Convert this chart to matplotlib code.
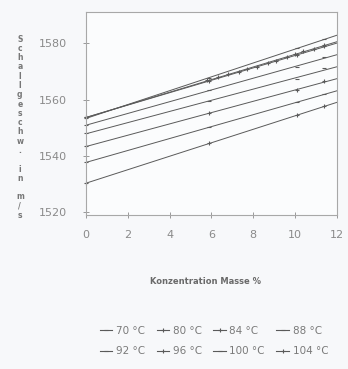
import numpy as np
import matplotlib
matplotlib.use("Agg")
import matplotlib.pyplot as plt

conc = [0.0, 5.9, 10.1, 11.4]
temps = ["70 °C", "80 °C", "84 °C", "88 °C", "92 °C", "96 °C", "100 °C", "104 °C"]
v70 = [1553.4, 1567.6, 1578.2, 1581.4]
v80 = [1553.7, 1567.2, 1577.5, 1580.3]
v84 = [1553.7, 1566.5, 1575.7, 1578.9]
v88 = [1550.9, 1563.3, 1571.5, 1575.0]
v92 = [1548.0, 1559.4, 1567.2, 1571.1]
v96 = [1543.4, 1555.1, 1563.3, 1566.5]
v100 = [1537.7, 1550.2, 1559.0, 1561.9]
v104 = [1530.3, 1544.5, 1554.4, 1557.6]
# densely measured series (80 °C)
conc80_dense = [0.0, 5.8, 6.3, 6.8, 7.3, 7.7, 8.2, 8.7, 9.1, 9.6, 10.0, 10.4, 10.9, 11.4]
v80_dense = [1553.7, 1566.9, 1568.0, 1568.9, 1569.8, 1570.7, 1571.6, 1572.8,
             1573.7, 1575.1, 1576.3, 1577.3, 1578.1, 1579.3]
xticks = [0, 2, 4, 6, 8, 10, 12]
yticks = [1520, 1540, 1560, 1580]

series = [
    (conc, v70, "_"),
    (conc80_dense, v80_dense, "+"),
    (conc, v84, "+"),
    (conc, v88, "_"),
    (conc, v92, "_"),
    (conc, v96, "+"),
    (conc, v100, "_"),
    (conc, v104, "+"),
]

fig = plt.figure(figsize=(3.48, 3.69), dpi=100, facecolor="#f7f8fa")
ax = fig.add_axes([0.247, 0.417, 0.721, 0.550])
ax.set_facecolor("#fbfcfd")

lc = "#5a5a5a"
xx = np.array([0, 12.0])
handles = []
for (xs, ys, mk), lab in zip(series, temps):
    k, d = np.polyfit(xs, ys, 1)
    ax.plot(xx, k * xx + d, color=lc, lw=0.7, clip_on=True)
    ax.plot(xs, ys, ls="none", marker=mk, ms=3.5, mew=0.8, color=lc, clip_on=False)
    h, = ax.plot([], [], color=lc, lw=0.8, marker=mk, ms=3.5, mew=0.8)
    handles.append(h)

ax.set_xlim(0, 12)
ax.set_ylim(1519, 1591)
ax.set_xticks(xticks)
ax.set_yticks(yticks)
for s in ax.spines.values():
    s.set_color("#a8a8a8")
    s.set_linewidth(0.8)
ax.tick_params(axis="both", direction="inout", length=5, width=0.7, color="#999999",
               labelcolor="#8a8a8a", labelsize=8)
ax.tick_params(axis="x", pad=8)
ax.tick_params(axis="y", pad=11)

ylabel = "Schallgeschw. in m/s"
fig.text(0.057, 0.655, "\n".join(ylabel), fontsize=5.5, color="#777777",
         ha="center", va="center", linespacing=1.04, fontweight="bold")

fig.text(0.59, 0.236, "Konzentration Masse %", fontsize=6, fontweight="bold",
         color="#6a6a6a", ha="center", va="center")

order = [0, 4, 1, 5, 2, 6, 3, 7]
fig.legend([handles[i] for i in order], [temps[i] for i in order], ncol=4,
           loc="center", bbox_to_anchor=(0.615, 0.076),
           frameon=False, fontsize=7.5, handlelength=1.2, handletextpad=0.35,
           columnspacing=1.1, labelspacing=1.0, labelcolor="#7a7a7a")

fig.savefig("out.png", dpi=100, facecolor=fig.get_facecolor())
